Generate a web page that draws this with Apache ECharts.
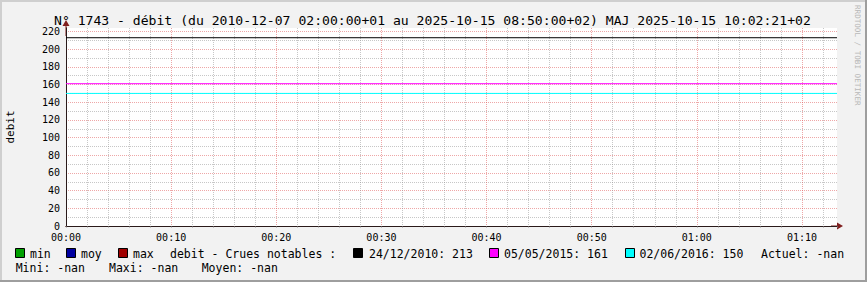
<!DOCTYPE html>
<html><head><meta charset="utf-8">
<script src="https://cdn.jsdelivr.net/npm/echarts@6/dist/echarts.min.js"></script>
<style>html,body{margin:0;padding:0;background:#f2f2f2}#c{width:867px;height:282px}</style>
</head><body><div id="c"></div>
<script>
// ---------- data ----------
const chartTitle = 'N° 1743 - débit (du 2010-12-07 02:00:00+01 au 2025-10-15 08:50:00+02) MAJ 2025-10-15 10:02:21+02';
const yAxisName = 'debit';
const xTickLabels = ['00:00', '00:10', '00:20', '00:30', '00:40', '00:50', '01:00', '01:10'];
const xRangeSeconds = [0, 4400];
const xLabelStep = 600;
const xGridStep = 120;
const yRange = [0, 224];
const yLabelStep = 20;
const yGridStep = 10;
const statNames = ['min', 'moy', 'max'];
const minValues = [];
const moyValues = [];
const maxValues = [];
const legendCaption = 'debit - Crues notables :';
const crueDates = ['24/12/2010', '05/05/2015', '02/06/2016'];
const crueValues = [213, 161, 150];
const actuelText = 'Actuel: -nan';
const summaryTexts = ['Mini: -nan', 'Maxi: -nan', 'Moyen: -nan'];
const watermark = 'RRDTOOL / TOBI OETIKER';

// ---------- styles ----------
const MONO = '"DejaVu Sans Mono", monospace';
const statColors = ['#00a000', '#0000a0', '#a00000'];
const crueColors = ['#000000', '#ff00ff', '#00ffff'];
const gridGray = 'rgba(143,143,143,0.5)';
const gridRed = 'rgba(222,79,79,0.5)';
const axisColor = '#2a1a1a';
const arrowColor = '#801f1f';

const yArrowPath = 'path://M3.5,0 L7,6 L0,6 Z M3,6 L4,6 L4,16 L3,16 Z';
const xArrowPath = 'path://M3.5,0 L7,6 L0,6 Z M3,6 L4,6 L4,12 L3,12 Z';

const chart = echarts.init(document.getElementById('c'), null, {renderer: 'svg'});

const series = [];
const statData = [minValues, moyValues, maxValues];
statNames.forEach((n, i) => {
  series.push({name: n, type: 'line', data: statData[i], showSymbol: false,
    lineStyle: {color: statColors[i], width: 1}, animation: false});
});
crueDates.forEach((d, i) => {
  series.push({name: d, type: 'line', showSymbol: false, symbol: 'none', animation: false,
    silent: true, z: 5,
    lineStyle: {color: crueColors[i], width: 1},
    data: [[xRangeSeconds[0], crueValues[i]], [xRangeSeconds[1], crueValues[i]]]});
});

// legend / frame graphics
const g = [];
g.push({type: 'rect', shape: {x: 0, y: 0, width: 867, height: 2}, style: {fill: '#cfcfcf'}, silent: true});
g.push({type: 'rect', shape: {x: 0, y: 0, width: 2, height: 282}, style: {fill: '#cfcfcf'}, silent: true});
g.push({type: 'rect', shape: {x: 0, y: 280, width: 867, height: 2}, style: {fill: '#9e9e9e'}, silent: true});
g.push({type: 'rect', shape: {x: 865, y: 0, width: 2, height: 282}, style: {fill: '#9e9e9e'}, silent: true});

function box(x, color) {
  g.push({type: 'rect', shape: {x: x + 0.5, y: 248.5, width: 9, height: 9},
    style: {fill: color, stroke: '#000', lineWidth: 1}, silent: true});
}
function txt(x, y, s) {
  g.push({type: 'text', x: x, y: y, silent: true,
    style: {text: s, font: '11.5px ' + MONO, fill: '#000', textAlign: 'left', textVerticalAlign: 'middle', align: 'left', verticalAlign: 'middle'}});
}
const row1 = 254, row2 = 268;
const statBoxX = [15, 66, 118];
const statTextX = [30, 81, 133];
statNames.forEach((n, i) => { box(statBoxX[i], statColors[i]); txt(statTextX[i], row1, n); });
txt(170, row1, legendCaption);
const crueBoxX = [353, 489, 625];
const crueTextX = [369, 504, 639.5];
crueDates.forEach((d, i) => { box(crueBoxX[i], crueColors[i]); txt(crueTextX[i], row1, d + ': ' + crueValues[i]); });
txt(761, row1, actuelText);
const sumX = [15.7, 109, 201.7];
summaryTexts.forEach((s, i) => txt(sumX[i], row2, s));
g.push({type: 'text', x: 857, y: 5, rotation: -Math.PI / 2, silent: true,
  style: {text: watermark, font: '7.6px ' + MONO, fill: '#b8b8b8', textAlign: 'left', textVerticalAlign: 'middle', align: 'left', verticalAlign: 'middle'}});

const xColors = [gridRed, gridGray, gridGray, gridGray, gridGray];
const yColors = [gridRed, gridGray];

const option = {
  animation: false,
  backgroundColor: '#f2f2f2',
  title: {text: chartTitle, left: 49, top: 8,
    textStyle: {fontFamily: MONO, fontSize: 13.1, fontWeight: 'normal', color: '#000', lineHeight: 14}},
  grid: {left: 66, right: 30, top: 28, bottom: 56, show: true, backgroundColor: '#ffffff', borderWidth: 0,
    outerBoundsMode: 'none', containLabel: false},
  xAxis: [{
    type: 'value', min: xRangeSeconds[0], max: xRangeSeconds[1], interval: xGridStep, z: 3,
    axisLine: {show: true, onZero: false, lineStyle: {color: axisColor, width: 1}},
    axisTick: {show: true, length: 2, lineStyle: {color: gridGray}},
    axisLabel: {margin: 5, fontFamily: MONO, fontSize: 10, color: '#000', lineHeight: 12, hideOverlap: false,
      showMinLabel: true, showMaxLabel: true,
      formatter: v => (v % xLabelStep === 0 && v < xRangeSeconds[1]) ? xTickLabels[v / xLabelStep] : ''},
    splitLine: {show: true, showMaxLine: false, lineStyle: {color: xColors, width: 1, type: [1, 1]}}
  }, {
    type: 'value', min: xRangeSeconds[0], max: xRangeSeconds[1], position: 'bottom', z: 2,
    axisLine: {show: true, onZero: false, symbol: ['none', xArrowPath], symbolSize: [7, 12], lineStyle: {color: arrowColor, width: 1}},
    axisTick: {show: false}, axisLabel: {show: false}, splitLine: {show: false}
  }],
  yAxis: [{
    type: 'value', min: yRange[0], max: yRange[1], interval: yGridStep, z: 3,
    name: yAxisName, nameLocation: 'middle', nameGap: 50, nameRotate: 90,
    nameTextStyle: {fontFamily: MONO, fontSize: 11, color: '#000'},
    axisLine: {show: true, onZero: false, lineStyle: {color: axisColor, width: 1}},
    axisTick: {show: false},
    axisLabel: {margin: 6, fontFamily: MONO, fontSize: 10, color: '#000', hideOverlap: false,
      showMinLabel: true, showMaxLabel: true,
      formatter: v => (v % yLabelStep === 0) ? String(v) : ''},
    splitLine: {show: true, showMaxLine: false, lineStyle: {color: yColors, width: 1, type: [1, 1]}}
  }, {
    type: 'value', min: yRange[0], max: yRange[1], position: 'left', z: 2,
    axisLine: {show: true, onZero: false, symbol: ['none', yArrowPath], symbolSize: [7, 16], lineStyle: {color: arrowColor, width: 1}},
    axisTick: {show: false}, axisLabel: {show: false}, splitLine: {show: false}
  }],
  series: series,
  graphic: g
};
chart.setOption(option);
</script>
</body></html>
